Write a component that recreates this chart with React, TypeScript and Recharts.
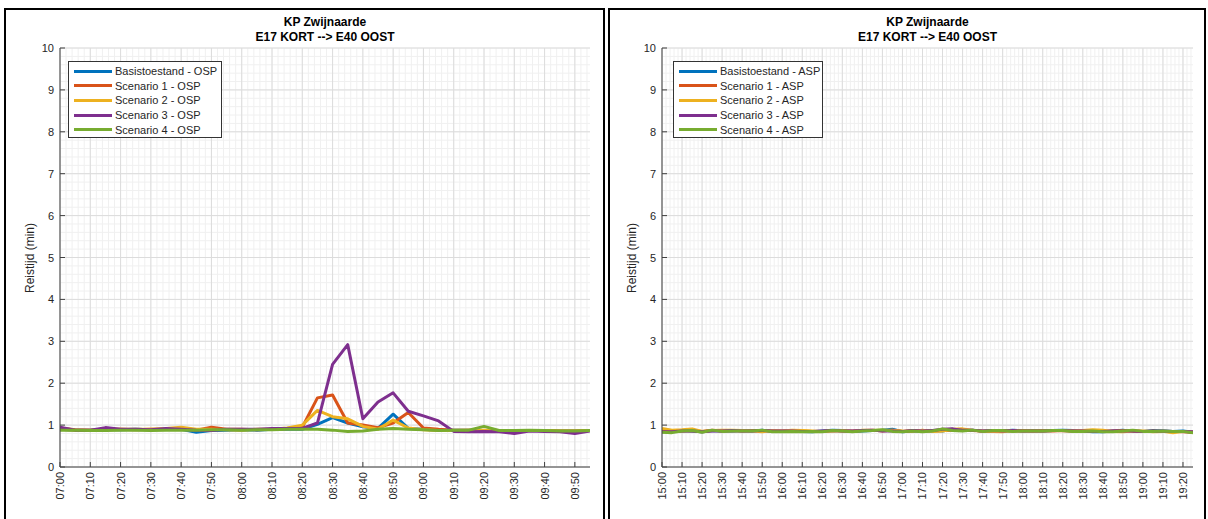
import React from 'react';
import { LineChart, Line, XAxis, YAxis, CartesianGrid } from 'recharts';

const COLORS = ['#0072BD', '#D95319', '#EDB120', '#7E2F8E', '#77AC30'];

const TITLE_1 = 'KP Zwijnaarde';
const TITLE_2 = 'E17 KORT --> E40 OOST';
const Y_LABEL = 'Reistijd (min)';
const Y_TICKS = [0, 1, 2, 3, 4, 5, 6, 7, 8, 9, 10];

// ---------- Ochtendspits (OSP) ----------
const OSP_NAMES = ['Basistoestand - OSP', 'Scenario 1 - OSP', 'Scenario 2 - OSP', 'Scenario 3 - OSP', 'Scenario 4 - OSP'];
const OSP_TIMES = ['07:00','07:05','07:10','07:15','07:20','07:25','07:30','07:35','07:40','07:45','07:50','07:55','08:00','08:05','08:10','08:15','08:20','08:25','08:30','08:35','08:40','08:45','08:50','08:55','09:00','09:05','09:10','09:15','09:20','09:25','09:30','09:35','09:40','09:45','09:50','09:55'];
const OSP_TICKS = ['07:00','07:10','07:20','07:30','07:40','07:50','08:00','08:10','08:20','08:30','08:40','08:50','09:00','09:10','09:20','09:30','09:40','09:50'];
const OSP_BASIS = [0.9,0.88,0.88,0.9,0.89,0.9,0.89,0.9,0.9,0.83,0.87,0.88,0.89,0.88,0.9,0.9,0.9,1.02,1.18,1.05,0.96,0.92,1.26,0.92,0.9,0.88,0.88,0.88,0.87,0.87,0.86,0.87,0.87,0.86,0.86,0.87];
const OSP_S1 = [0.93,0.89,0.88,0.9,0.9,0.89,0.9,0.9,0.92,0.88,0.95,0.9,0.9,0.89,0.9,0.92,0.95,1.65,1.72,1.05,1.0,0.94,1.05,1.3,0.93,0.9,0.88,0.88,0.87,0.87,0.86,0.87,0.87,0.86,0.86,0.87];
const OSP_S2 = [0.9,0.88,0.88,0.89,0.9,0.9,0.9,0.92,0.95,0.9,0.9,0.89,0.88,0.9,0.9,0.93,1.0,1.35,1.2,1.15,0.97,0.9,1.12,0.93,0.89,0.87,0.87,0.88,0.88,0.87,0.86,0.87,0.87,0.86,0.86,0.87];
const OSP_S3 = [0.95,0.88,0.88,0.94,0.9,0.9,0.89,0.92,0.9,0.88,0.87,0.9,0.9,0.9,0.92,0.92,0.92,1.05,2.45,2.92,1.15,1.55,1.77,1.33,1.22,1.1,0.85,0.84,0.85,0.84,0.8,0.86,0.85,0.84,0.8,0.86];
const OSP_S4 = [0.88,0.88,0.87,0.87,0.88,0.88,0.87,0.88,0.88,0.88,0.89,0.89,0.88,0.89,0.89,0.9,0.9,0.9,0.88,0.85,0.86,0.9,0.92,0.9,0.89,0.87,0.88,0.88,0.97,0.87,0.87,0.88,0.87,0.86,0.86,0.87];

// ---------- Avondspits (ASP) ----------
const ASP_NAMES = ['Basistoestand - ASP', 'Scenario 1 - ASP', 'Scenario 2 - ASP', 'Scenario 3 - ASP', 'Scenario 4 - ASP'];
const ASP_TIMES = ['15:00','15:05','15:10','15:15','15:20','15:25','15:30','15:35','15:40','15:45','15:50','15:55','16:00','16:05','16:10','16:15','16:20','16:25','16:30','16:35','16:40','16:45','16:50','16:55','17:00','17:05','17:10','17:15','17:20','17:25','17:30','17:35','17:40','17:45','17:50','17:55','18:00','18:05','18:10','18:15','18:20','18:25','18:30','18:35','18:40','18:45','18:50','18:55','19:00','19:05','19:10','19:15','19:20','19:25'];
const ASP_TICKS = ['15:00','15:10','15:20','15:30','15:40','15:50','16:00','16:10','16:20','16:30','16:40','16:50','17:00','17:10','17:20','17:30','17:40','17:50','18:00','18:10','18:20','18:30','18:40','18:50','19:00','19:10','19:20'];
const ASP_BASIS = [0.85,0.84,0.87,0.86,0.84,0.87,0.86,0.86,0.87,0.86,0.88,0.85,0.85,0.86,0.85,0.84,0.86,0.88,0.87,0.85,0.86,0.87,0.88,0.90,0.84,0.86,0.86,0.87,0.86,0.90,0.87,0.88,0.85,0.87,0.86,0.88,0.86,0.87,0.86,0.87,0.88,0.87,0.86,0.84,0.84,0.86,0.88,0.85,0.85,0.87,0.86,0.85,0.86,0.83];
const ASP_S1 = [0.88,0.86,0.86,0.87,0.85,0.88,0.86,0.87,0.86,0.87,0.87,0.86,0.86,0.87,0.86,0.85,0.85,0.87,0.86,0.86,0.87,0.88,0.86,0.88,0.85,0.87,0.87,0.86,0.87,0.88,0.88,0.87,0.86,0.86,0.87,0.86,0.87,0.86,0.87,0.86,0.87,0.86,0.86,0.87,0.85,0.86,0.87,0.86,0.85,0.86,0.85,0.85,0.84,0.83];
const ASP_S2 = [0.92,0.88,0.89,0.91,0.85,0.87,0.88,0.88,0.87,0.86,0.84,0.87,0.86,0.88,0.87,0.86,0.85,0.86,0.87,0.85,0.88,0.87,0.88,0.88,0.86,0.85,0.88,0.85,0.86,0.90,0.91,0.88,0.85,0.85,0.84,0.87,0.86,0.86,0.86,0.87,0.87,0.86,0.87,0.89,0.88,0.85,0.84,0.86,0.86,0.84,0.85,0.82,0.85,0.84];
const ASP_S3 = [0.84,0.84,0.86,0.86,0.84,0.86,0.86,0.87,0.86,0.86,0.87,0.86,0.86,0.86,0.85,0.85,0.86,0.87,0.86,0.86,0.87,0.88,0.86,0.86,0.85,0.87,0.86,0.87,0.90,0.91,0.88,0.88,0.86,0.87,0.86,0.87,0.86,0.86,0.86,0.87,0.87,0.86,0.86,0.85,0.85,0.86,0.86,0.86,0.85,0.85,0.86,0.85,0.85,0.84];
const ASP_S4 = [0.83,0.82,0.86,0.87,0.83,0.88,0.85,0.86,0.86,0.86,0.88,0.84,0.84,0.85,0.84,0.85,0.84,0.87,0.86,0.84,0.86,0.87,0.89,0.85,0.84,0.86,0.84,0.86,0.91,0.87,0.86,0.88,0.85,0.87,0.87,0.85,0.86,0.86,0.86,0.87,0.87,0.85,0.85,0.86,0.84,0.84,0.86,0.88,0.85,0.85,0.86,0.85,0.85,0.82];

const FONT = '"Liberation Sans", Arial, Helvetica, sans-serif';
const AXIS_COLOR = '#404040';
const TEXT_COLOR = '#262626';

const toMin = (s: string) => {
  const [h, m] = s.split(':').map(Number);
  return h * 60 + m;
};

function buildRows(times: string[], series: number[][]) {
  const t0 = toMin(times[0]);
  return times.map((tm, i) => {
    const row: Record<string, number> = { t: toMin(tm) - t0 };
    series.forEach((s, k) => {
      row['s' + k] = s[i];
    });
    return row;
  });
}

function range(a: number, b: number, step: number) {
  const out: number[] = [];
  for (let v = a; v <= b + 1e-9; v += step) out.push(Math.round(v * 1000) / 1000);
  return out;
}

type PanelProps = {
  left: number;
  width: number;
  yAxisWidth: number;
  rightMargin: number;
  times: string[];
  ticks: string[];
  series: number[][];
  names: string[];
  legendLeft: number;
  legendWidth: number;
  yLabelX: number;
};

function Panel(p: PanelProps) {
  const data = buildRows(p.times, p.series);
  const t0 = toMin(p.times[0]);
  const tEnd = toMin(p.times[p.times.length - 1]) - t0;
  const tickVals = p.ticks.map((s) => toMin(s) - t0);
  const labelOf: Record<number, string> = {};
  tickVals.forEach((v, i) => (labelOf[v] = p.ticks[i]));
  const minorX = range(0, tEnd, 2);
  const minorY = range(0, 10, 0.2);
  const height = 519;
  const top = 48;
  const xAxisH = 52;
  const plotL = p.left + p.yAxisWidth;
  const plotR = p.left + p.width - p.rightMargin;
  const cx = (plotL + plotR) / 2;
  const cy = (top + (height - xAxisH)) / 2;

  const XTick = (props: any) => {
    const { x, y, payload } = props;
    return (
      <g>
        <line x1={x} y1={y} x2={x} y2={y - 5} stroke={AXIS_COLOR} strokeWidth={1} />
        <text
          x={x - 5}
          y={y}
          transform={`rotate(-90 ${x} ${y})`}
          textAnchor="end"
          dominantBaseline="central"
          fontSize={11}
          fontFamily={FONT}
          fill={TEXT_COLOR}
        >
          {labelOf[payload.value]}
        </text>
      </g>
    );
  };
  const YTick = (props: any) => {
    const { x, y, payload } = props;
    return (
      <g>
        <line x1={x} y1={y} x2={x + 5} y2={y} stroke={AXIS_COLOR} strokeWidth={1} />
        <text x={x - 6} y={y} textAnchor="end" dominantBaseline="central" fontSize={11} fontFamily={FONT} fill={TEXT_COLOR}>
          {payload.value}
        </text>
      </g>
    );
  };

  return (
    <>
      <div style={{ position: 'absolute', left: p.left, top: 0 }}>
        <LineChart
          width={p.width}
          height={height}
          data={data}
          margin={{ top, right: p.rightMargin, bottom: 0, left: 0 }}
        >
          <CartesianGrid stroke="#f0f0f0" strokeWidth={1} horizontalValues={minorY} verticalValues={minorX} />
          <CartesianGrid stroke="#dcdcdc" strokeWidth={1} horizontalValues={Y_TICKS} verticalValues={tickVals} />
          <XAxis
            type="number"
            dataKey="t"
            domain={[0, tEnd]}
            ticks={tickVals}
            interval={0}
            height={xAxisH}
            tickSize={0}
            tickMargin={0}
            tickLine={false}
            axisLine={{ stroke: AXIS_COLOR, strokeWidth: 1 }}
            tick={<XTick />}
            allowDataOverflow
          />
          <YAxis
            type="number"
            domain={[0, 10]}
            ticks={Y_TICKS}
            interval={0}
            width={p.yAxisWidth}
            tickSize={0}
            tickMargin={0}
            tickLine={false}
            axisLine={{ stroke: AXIS_COLOR, strokeWidth: 1 }}
            tick={<YTick />}
            allowDataOverflow
          />
          {p.series.map((_, k) => (
            <Line
              key={k}
              type="linear"
              dataKey={'s' + k}
              stroke={COLORS[k]}
              strokeWidth={3}
              dot={false}
              activeDot={false}
              isAnimationActive={false}
              strokeLinejoin="round"
            />
          ))}
        </LineChart>
      </div>
      <div
        style={{
          position: 'absolute',
          left: cx - 150,
          width: 300,
          top: 15,
          textAlign: 'center',
          fontFamily: FONT,
          fontWeight: 'bold',
          fontSize: 12,
          lineHeight: '15px',
          color: '#000',
        }}
      >
        <div>{TITLE_1}</div>
        <div>{TITLE_2}</div>
      </div>
      <div
        style={{
          position: 'absolute',
          left: p.yLabelX - 60,
          top: cy - 8,
          width: 120,
          height: 16,
          lineHeight: '16px',
          textAlign: 'center',
          transform: 'rotate(-90deg)',
          fontFamily: FONT,
          fontSize: 12,
          color: TEXT_COLOR,
        }}
      >
        {Y_LABEL}
      </div>
      <div
        style={{
          position: 'absolute',
          left: p.legendLeft,
          top: 61,
          width: p.legendWidth,
          height: 77,
          boxSizing: 'border-box',
          border: '1px solid #333',
          background: '#fff',
          padding: '2px 0 0 5px',
          fontFamily: FONT,
          fontSize: 11,
          color: TEXT_COLOR,
        }}
      >
        {p.names.map((n, k) => (
          <div key={k} style={{ display: 'flex', alignItems: 'center', height: 14.6 }}>
            <div style={{ width: 38, height: 3, background: COLORS[k], marginRight: 3 }} />
            <span style={{ whiteSpace: 'nowrap' }}>{n}</span>
          </div>
        ))}
      </div>
    </>
  );
}

export default function App() {
  return (
    <div style={{ position: 'absolute', left: 0, top: 0, width: 1208, height: 519, background: '#fff', overflow: 'hidden' }}>
      <Panel
        left={0}
        width={604}
        yAxisWidth={60}
        rightMargin={14}
        times={OSP_TIMES}
        ticks={OSP_TICKS}
        series={[OSP_BASIS, OSP_S1, OSP_S2, OSP_S3, OSP_S4]}
        names={OSP_NAMES}
        legendLeft={68}
        legendWidth={154}
        yLabelX={30}
      />
      <Panel
        left={606}
        width={600}
        yAxisWidth={56}
        rightMargin={13}
        times={ASP_TIMES}
        ticks={ASP_TICKS}
        series={[ASP_BASIS, ASP_S1, ASP_S2, ASP_S3, ASP_S4]}
        names={ASP_NAMES}
        legendLeft={673}
        legendWidth={150}
        yLabelX={632}
      />
      <div style={{ position: 'absolute', left: 4, top: 8, width: 601, height: 530, boxSizing: 'border-box', border: '2px solid #000', pointerEvents: 'none' }} />
      <div style={{ position: 'absolute', left: 608, top: 8, width: 598, height: 530, boxSizing: 'border-box', border: '2px solid #000', pointerEvents: 'none' }} />
    </div>
  );
}
